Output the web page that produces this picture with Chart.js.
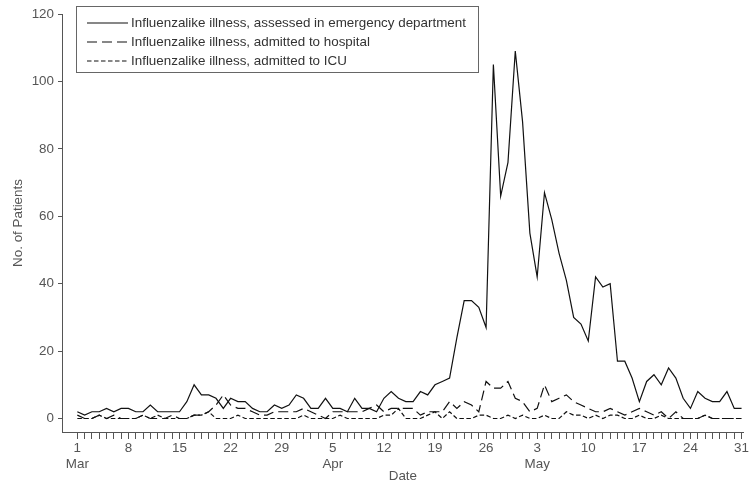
<!DOCTYPE html>
<html>
<head>
<meta charset="utf-8">
<script src="https://cdn.jsdelivr.net/npm/chart.js@4"></script>
<style>
  html, body { margin: 0; padding: 0; background: #fff; }
</style>
</head>
<body>
<canvas id="chart" width="750" height="483"></canvas>
<script>
// x = days since 1 March
const days = Array.from({ length: 92 }, (_, i) => i);
const tickDays = [0, 7, 14, 21, 28, 35, 42, 49, 56, 63, 70, 77, 84, 91];
const tickDates = ["1", "8", "15", "22", "29", "5", "12", "19", "26", "3", "10", "17", "24", "31"];
const monthDays = [0, 35, 63];
const monthNames = ["Mar", "Apr", "May"];
const yTicks = [0, 20, 40, 60, 80, 100, 120];

const seriesLabels = [
    "Influenzalike illness, assessed in emergency department",
    "Influenzalike illness, admitted to hospital",
    "Influenzalike illness, admitted to ICU"
];

const edVisits = [
    2, 1, 2, 2, 3, 2, 3, 3, 2, 2,
    4, 2, 2, 2, 2, 5, 10, 7, 7, 6,
    3, 6, 5, 5, 3, 2, 2, 4, 3, 4,
    7, 6, 3, 3, 6, 3, 3, 2, 6, 3,
    3, 2, 6, 8, 6, 5, 5, 8, 7, 10,
    11, 12, 24, 35, 35, 33, 27, 105, 66, 76,
    109, 88, 55, 42, 67, 59, 49, 41, 30, 28,
    23, 42, 39, 40, 17, 17, 12, 5, 11, 13,
    10, 15, 12, 6, 3, 8, 6, 5, 5, 8,
    3, 3
];
const hospitalAdmits = [
    1, 0, 0, 1, 0, 1, 0, 0, 0, 1,
    0, 0, 0, 1, 0, 0, 1, 1, 2, 4,
    7, 4, 3, 3, 2, 1, 1, 2, 2, 2,
    2, 3, 2, 1, 0, 2, 2, 2, 2, 2,
    3, 4, 2, 3, 3, 3, 3, 1, 2, 2,
    2, 5, 3, 5, 4, 2, 11, 9, 9, 11,
    6, 5, 2, 3, 10, 5, 6, 7, 5, 4,
    3, 2, 2, 3, 2, 1, 2, 3, 2, 1,
    2, 0, 2, 0, 0, 0, 1, 0, 0, 0,
    0, 0
];
const icuAdmits = [
    0, 0, 0, 1, 0, 0, 0, 0, 0, 1,
    0, 1, 0, 0, 0, 0, 1, 1, 2, 0,
    0, 0, 1, 0, 0, 0, 0, 0, 0, 0,
    0, 1, 0, 0, 0, 0, 1, 0, 0, 0,
    0, 0, 1, 1, 3, 0, 0, 0, 1, 2,
    0, 2, 0, 0, 0, 1, 1, 0, 0, 1,
    0, 1, 0, 0, 1, 0, 0, 2, 1, 1,
    0, 1, 0, 1, 1, 0, 0, 1, 0, 0,
    1, 0, 0, 0, 0, 0, 1, 0, 0, 0,
    0, 0
];

const FONT = "'Liberation Sans', Arial, sans-serif";
const toPoints = (vals) => days.map((d, i) => ({ x: d, y: vals[i] }));

// boxed legend inside the plot, top left
const boxedLegend = {
    id: "boxedLegend",
    afterDraw(chart) {
        const ctx = chart.ctx;
        ctx.save();
        ctx.fillStyle = "#fff";
        ctx.fillRect(76.5, 6.5, 402, 66);
        ctx.strokeStyle = "#666";
        ctx.lineWidth = 1;
        ctx.strokeRect(76.5, 6.5, 402, 66);
        ctx.font = "13.4px " + FONT;
        ctx.textBaseline = "middle";
        chart.data.datasets.forEach((ds, i) => {
            const y = 23 + i * 19;
            ctx.strokeStyle = ds.borderColor;
            ctx.lineWidth = ds.borderWidth;
            ctx.setLineDash(ds.borderDash);
            ctx.beginPath();
            ctx.moveTo(87, y);
            ctx.lineTo(128, y);
            ctx.stroke();
            ctx.setLineDash([]);
            ctx.fillStyle = "#333";
            ctx.fillText(ds.label, 131, y);
        });
        ctx.restore();
    }
};

new Chart(document.getElementById("chart"), {
    type: "line",
    data: {
        datasets: [
            { label: seriesLabels[0], data: toPoints(edVisits), borderColor: "#111", borderWidth: 1.2, borderDash: [], pointRadius: 0 },
            { label: seriesLabels[1], data: toPoints(hospitalAdmits), borderColor: "#111", borderWidth: 1.2, borderDash: [10, 5], pointRadius: 0 },
            { label: seriesLabels[2], data: toPoints(icuAdmits), borderColor: "#111", borderWidth: 1.2, borderDash: [4.5, 2.5], pointRadius: 0 }
        ]
    },
    options: {
        responsive: false,
        animation: false,
        devicePixelRatio: 1,
        layout: { padding: { top: 14, right: 0, left: 0, bottom: 0 } },
        plugins: { legend: { display: false }, tooltip: { enabled: false } },
        scales: {
            x: {
                type: "linear",
                min: -2.1,
                max: 91.3,
                afterBuildTicks: (s) => { s.ticks = days.map((d) => ({ value: d })); },
                afterFit: (s) => { s.height = 51; },
                ticks: {
                    autoSkip: false,
                    maxRotation: 0,
                    padding: 1,
                    color: "#555",
                    font: { family: FONT, size: 13.4, lineHeight: 1.2 },
                    callback: (v) => {
                        const i = tickDays.indexOf(v);
                        if (i < 0) return "";
                        const m = monthDays.indexOf(v);
                        return m < 0 ? tickDates[i] : [tickDates[i], monthNames[m]];
                    }
                },
                grid: { drawOnChartArea: false, drawTicks: true, tickLength: 7, color: "#555" },
                border: { display: true, color: "#555", width: 1 },
                title: { display: true, text: "Date", color: "#555", font: { family: FONT, size: 13.4, lineHeight: 1 }, padding: { top: -1, bottom: 0 } }
            },
            y: {
                min: -4,
                max: 120,
                afterBuildTicks: (s) => { s.ticks = yTicks.map((v) => ({ value: v })); },
                afterFit: (s) => { s.width = 62; },
                ticks: { color: "#555", padding: 4, font: { family: FONT, size: 13.4 } },
                grid: { drawOnChartArea: false, drawTicks: true, tickLength: 4, color: "#555" },
                border: { display: true, color: "#555", width: 1 },
                title: { display: true, text: "No. of Patients", color: "#555", font: { family: FONT, size: 13.4 }, padding: { top: 10, bottom: 0 } }
            }
        }
    },
    plugins: [boxedLegend]
});
</script>
</body>
</html>
